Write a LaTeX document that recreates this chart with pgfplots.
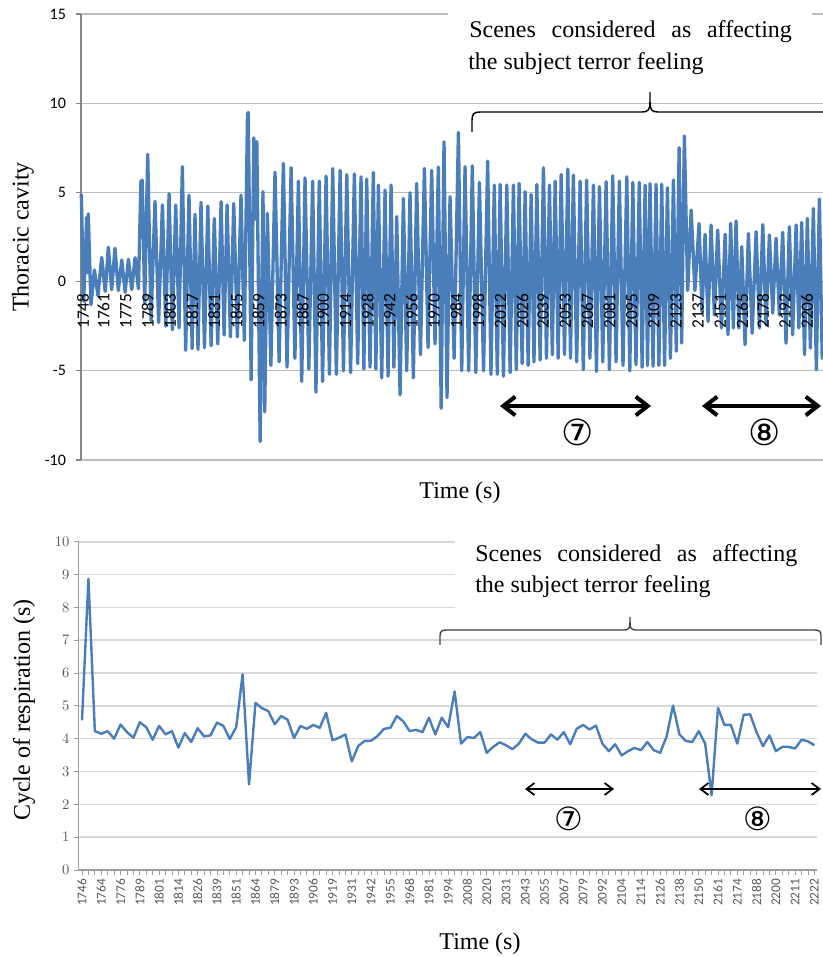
\documentclass[border=0pt]{standalone}
\usepackage{fontspec}
\setmainfont{Liberation Serif}
\newfontfamily\calibri{Carlito}
\newfontfamily\dejavu{DejaVu Sans}
\usepackage{pgfplots}
\pgfplotsset{compat=1.18}
\usetikzlibrary{arrows.meta}
\definecolor{xlblue}{HTML}{4A7EBB}
\definecolor{axgray}{HTML}{868686}
\definecolor{gridA}{HTML}{BDBDBD}
\definecolor{gridB}{HTML}{D9D9D9}
\definecolor{lblgray}{HTML}{595959}

\pgfplotsset{
  topaxis/.style={
    at={(60.75pt,372.75pt)}, anchor=south west,
    scale only axis, width=556.5pt, height=334.5pt,
    xmin=1746.7, xmax=2216, ymin=-10, ymax=15, clip=false,
  },
}

\begin{document}
\begin{tikzpicture}
\useasboundingbox (0,0) rectangle (617.25pt,717.75pt);

% top: thoracic cavity signal
\begin{axis}[
  topaxis,
  axis x line=middle, axis y line=left,
  x axis line style={-, axgray, line width=1.3pt},
  y axis line style={-, axgray, line width=0.8pt},
  ytick={-10,-5,0,5,10,15}, yticklabels={-10,-5,0,5,10,15},
  ymajorgrids, grid style={gridA, line width=0.8pt},
  xtick=\empty,
  ytick style={axgray, line width=0.8pt},
  tick align=outside, major tick length=3.75pt,
  yticklabel style={font=\calibri\fontsize{12}{12}\selectfont, xshift=-4pt},
]
\addplot[xlblue, line width=2.5pt, line join=round] coordinates {
(1746.9,4.9) (1748.4,-1.1) (1750.3,3.6) (1750.8,0.5) (1751.3,3.8) (1753.0,-1.3)
(1755.2,0.65) (1757.4,-0.8) (1759.8,1.36) (1762.0,-0.55) (1764.0,1.92) (1766.1,-0.45)
(1768.2,1.87) (1770.3,-0.5) (1772.5,1.21) (1774.6,-0.6) (1776.7,1.25) (1778.8,-0.45)
(1780.9,1.34) (1783.0,-0.4)
(1784.6,5.6) (1785.4,5.69) (1787.0,-1.2) (1788.9,7.13) (1791.0,-2.2) (1793.5,4.5)
(1795.8,-2.3) (1798.2,4.3) (1800.3,-2.5) (1802.4,4.93) (1804.5,-2.7) (1806.6,4.29)
(1808.7,-2.6) (1810.8,6.44) (1812.9,-3.85) (1815.0,4.85) (1817.0,-3.75) (1818.8,3.77)
(1820.7,-3.8) (1822.6,4.44) (1824.8,-3.7) (1826.9,4.24) (1829.0,-3.6) (1831.0,3.54)
(1833.2,-3.5) (1835.3,4.48) (1837.2,-3.0) (1839.1,4.29) (1841.2,-3.1) (1843.3,4.38)
(1845.6,-3.1) (1847.9,4.85) (1850.0,-3.3)
(1852.0,9.4) (1852.5,9.48) (1854.3,-5.5) (1856.0,8.06) (1857.0,3.5) (1857.9,7.84)
(1860.0,-8.96) (1861.8,5.04) (1862.9,-7.3) (1864.6,3.82) (1866.8,-4.7) (1869.4,6.12)
(1872.0,-4.5) (1874.7,6.62) (1877.0,-4.8) (1879.6,6.38) (1882.0,-4.3) (1884.2,5.63)
(1886.3,-5.6) (1888.4,5.82) (1890.8,-4.9) (1893.2,5.63) (1895.3,-6.2) (1897.4,5.63)
(1899.5,-5.6) (1901.7,5.91) (1903.8,-5.2) (1905.9,6.34) (1908.2,-5.2) (1910.6,6.23)
(1912.7,-5.0) (1914.8,6.0) (1917.2,-5.1) (1919.6,6.04) (1921.7,-4.6) (1923.8,5.88)
(1925.6,-4.9) (1927.4,5.75) (1929.5,-4.8) (1931.6,6.12) (1933.2,-4.9) (1934.8,5.41)
(1936.9,-5.4) (1939.0,5.13) (1940.9,-5.3) (1942.8,5.41) (1944.6,-4.8) (1946.4,3.64)
(1948.5,-6.35) (1950.6,4.66) (1952.7,-5.0) (1954.8,4.98) (1956.9,-5.4) (1959.0,5.5)
(1961.4,-4.1) (1963.9,6.34) (1966.2,-3.7) (1968.5,6.23) (1970.6,-3.5) (1972.7,6.42)
(1974.5,-7.1) (1976.3,7.84) (1978.2,-6.5) (1980.1,4.76) (1982.7,-4.3) (1985.4,8.36)
(1987.5,-5.0) (1989.6,6.44) (1991.9,-5.0) (1994.2,6.49) (1996.4,-5.1) (1998.7,5.56)
(2001.3,-5.0) (2003.9,6.75) (2006.0,-5.2) (2008.1,5.41) (2010.0,-5.2) (2011.8,5.45)
(2013.9,-5.3) (2016.0,5.41) (2018.1,-5.1) (2020.2,5.41) (2022.0,-4.94) (2023.8,5.5)
(2025.7,-4.6) (2027.6,5.04) (2029.5,-4.7) (2031.4,4.89) (2033.2,-4.5) (2035.0,5.45)
(2037.1,-4.4) (2039.2,6.38) (2041.1,-4.3) (2043.0,5.41) (2044.8,-4.1) (2046.6,5.63)
(2048.5,-4.3) (2050.4,6.0) (2052.5,-4.1) (2054.6,6.31) (2056.3,-4.3) (2058.1,5.97)
(2060.2,-4.5) (2062.4,5.63) (2064.4,-4.94) (2066.5,5.69) (2068.6,-4.3) (2070.8,5.41)
(2072.7,-5.04) (2074.6,5.32) (2076.7,-4.5) (2078.8,5.6) (2080.9,-4.94) (2083.0,5.93)
(2085.1,-4.5) (2087.2,5.63) (2089.5,-4.7) (2091.9,5.88) (2093.8,-5.0) (2095.7,5.56)
(2097.7,-4.66) (2099.8,5.56) (2101.6,-4.8) (2103.5,5.41) (2105.0,-4.7) (2106.6,5.5)
(2108.5,-4.75) (2110.4,5.45) (2112.2,-4.7) (2114.0,5.45) (2115.8,-4.7) (2117.6,5.26)
(2119.5,-4.3) (2121.4,5.69) (2123.2,-3.9) (2125.0,7.5) (2126.6,-3.45) (2128.3,8.17)
(2130.4,-0.5) (2132.6,4.01) (2135.0,-0.5) (2137.6,3.26) (2139.5,-1.7) (2141.4,2.65)
(2143.3,-2.24) (2145.2,3.17) (2147.3,-1.87) (2149.4,2.89) (2151.8,-2.6) (2154.1,2.65)
(2155.9,-2.98) (2157.6,3.26) (2159.3,-2.6) (2161.0,3.4) (2162.8,-2.6) (2164.6,1.96)
(2166.7,-3.54) (2168.8,2.7) (2171.2,-2.9) (2173.7,2.8) (2175.8,-2.6) (2177.9,3.2)
(2180.0,-2.43) (2182.1,2.61) (2184.2,-1.77) (2186.3,2.43) (2188.4,-1.87) (2190.5,2.76)
(2192.6,-3.45) (2194.7,3.08) (2196.8,-2.98) (2199.0,3.17) (2200.7,-2.6) (2202.5,3.32)
(2204.3,-4.1) (2206.1,3.54) (2208.0,-3.73) (2209.9,4.1) (2211.8,-4.94) (2213.7,4.63)
(2215.5,-4.3) (2216.0,-2.0)
};
\end{axis}

% top: time labels drawn again above the signal
\begin{axis}[
  topaxis,
  axis x line=middle, axis y line=none,
  x axis line style={draw=none},
  ytick=\empty,
  xtick={1748,1761,1775,1789,1803,1817,1831,1845,1859,1873,1887,1900,1914,1928,1942,1956,1970,1984,1998,2012,2026,2039,2053,2067,2081,2095,2109,2123,2137,2151,2165,2178,2192,2206},
  xticklabels={1748,1761,1775,1789,1803,1817,1831,1845,1859,1873,1887,1900,1914,1928,1942,1956,1970,1984,1998,2012,2026,2039,2053,2067,2081,2095,2109,2123,2137,2151,2165,2178,2192,2206},
  xtick style={draw=none},
  tick align=outside, major tick length=3.75pt,
  xticklabel style={yshift=-5pt, rotate=90, anchor=east, font=\calibri\fontsize{13}{13}\selectfont, inner sep=0pt},
]
\end{axis}

% bottom: cycle of respiration
\begin{axis}[
  at={(59.1pt,65.25pt)}, anchor=south west,
  scale only axis, width=553.6pt, height=246.2pt,
  xmin=-0.5, xmax=114.4, ymin=0, ymax=10,
  axis lines=left, axis line style={-, axgray!80, line width=0.8pt},
  ytick={0,1,...,10},
  ymajorgrids, grid style={gridB, line width=1.2pt},
  xtick={0,3,...,114}, minor xtick={0,1,...,114},
  xticklabels={1746,1764,1776,1789,1801,1814,1826,1839,1851,1864,1879,1893,1906,1919,1931,1942,1955,1968,1981,1994,2008,2020,2031,2043,2055,2067,2079,2092,2104,2114,2126,2138,2150,2161,2174,2188,2200,2211,2222},
  tick align=outside, major tick length=3.5pt, minor tick length=3.5pt,
  tick style={axgray!80, line width=0.6pt},
  xticklabel style={yshift=-3pt, rotate=90, anchor=east, font=\calibri\fontsize{10}{10}\selectfont, text=lblgray, inner sep=0pt},
  yticklabel style={font=\calibri\fontsize{10.5}{10.5}\selectfont, text=lblgray},
  clip=false,
]
\addplot[xlblue, line width=1.8pt, line join=round] coordinates {
(0,4.56) (1,8.87) (2,4.23) (3,4.15) (4,4.23) (5,4.0) (6,4.43) (7,4.2) (8,4.03) (9,4.5)
(10,4.35) (11,3.97) (12,4.39) (13,4.13) (14,4.23) (15,3.73) (16,4.17) (17,3.9) (18,4.32) (19,4.07)
(20,4.1) (21,4.49) (22,4.39) (23,3.99) (24,4.35) (25,5.96) (26,2.61) (27,5.09) (28,4.93) (29,4.84)
(30,4.44) (31,4.69) (32,4.58) (33,4.02) (34,4.39) (35,4.3) (36,4.42) (37,4.33) (38,4.79) (39,3.95)
(40,4.03) (41,4.13) (42,3.31) (43,3.78) (44,3.93) (45,3.94) (46,4.08) (47,4.3) (48,4.33) (49,4.69)
(50,4.53) (51,4.23) (52,4.27) (53,4.2) (54,4.64) (55,4.13) (56,4.64) (57,4.35) (58,5.44) (59,3.85)
(60,4.05) (61,4.02) (62,4.2) (63,3.57) (64,3.75) (65,3.89) (66,3.8) (67,3.68) (68,3.85) (69,4.15)
(70,3.98) (71,3.88) (72,3.88) (73,4.13) (74,3.97) (75,4.2) (76,3.83) (77,4.3) (78,4.42) (79,4.28)
(80,4.4) (81,3.85) (82,3.62) (83,3.83) (84,3.49) (85,3.62) (86,3.72) (87,3.65) (88,3.9) (89,3.65)
(90,3.57) (91,4.07) (92,5.01) (93,4.13) (94,3.93) (95,3.9) (96,4.23) (97,3.85) (98,2.28) (99,4.94)
(100,4.42) (101,4.42) (102,3.85) (103,4.73) (104,4.74) (105,4.2) (106,3.77) (107,4.1) (108,3.62) (109,3.75)
(110,3.75) (111,3.7) (112,3.97) (113,3.92) (114,3.8)
};
\end{axis}

% annotations, in pixel units of the reference (y downwards)
\begin{scope}[x=0.75pt, y=-0.75pt, yshift=717.75pt]
  \fill[white] (448,0) rectangle (812,88);
  \fill[white] (455,527) rectangle (818,613);
  \node[anchor=base west, inner sep=0pt, font=\fontsize{18}{24}\selectfont] at (469,38)
    {\makebox[242pt][s]{Scenes considered as affecting}};
  \node[anchor=base west, inner sep=0pt, font=\fontsize{18}{24}\selectfont] at (468,70)
    {the subject terror feeling};
  \node[anchor=base west, inner sep=0pt, font=\fontsize{18}{24}\selectfont] at (475,562)
    {\makebox[241.5pt][s]{Scenes considered as affecting}};
  \node[anchor=base west, inner sep=0pt, font=\fontsize{18}{24}\selectfont] at (475,593)
    {the subject terror feeling};
  % braces
  \draw[black, line width=1.1pt] (472,132) -- (472,120) .. controls (472,114) and (474,112) .. (480,112)
    -- (642,112) .. controls (648,112) and (650,110) .. (650,102) -- (650,92);
  \draw[black, line width=1.1pt] (650,102) .. controls (650,110) and (652,112) .. (658,112) -- (830,112);
  \draw[black!75, line width=1pt] (440,645) -- (440,636) .. controls (440,631) and (442,630) .. (447,630)
    -- (624,630) .. controls (629,630) and (630,628) .. (630,622) -- (630,617);
  \draw[black!75, line width=1pt] (630,622) .. controls (630,628) and (631,630) .. (636,630)
    -- (814,630) .. controls (819,630) and (821,631) .. (821,636) -- (821,645);
  % arrows
  \draw[line width=3pt, {Straight Barb[length=9pt,width=14pt]}-{Straight Barb[length=9pt,width=14pt]}] (500,406) -- (651,406);
  \draw[line width=3pt, {Straight Barb[length=9pt,width=14pt]}-{Straight Barb[length=9pt,width=14pt]}] (702,406) -- (821,406);
  \draw[line width=1.3pt, {Straight Barb[length=6pt,width=9pt]}-{Straight Barb[length=6pt,width=9pt]}] (525,789) -- (614,789);
  \draw[line width=1.3pt, {Straight Barb[length=6pt,width=9pt]}-{Straight Barb[length=6pt,width=9pt]}] (699,789) -- (821,789);
  \node[font=\dejavu\fontsize{27}{27}\selectfont] at (578,432) {⑦};
  \node[font=\dejavu\fontsize{27}{27}\selectfont] at (765,432) {⑧};
  \node[font=\dejavu\fontsize{24}{24}\selectfont] at (569,819) {⑦};
  \node[font=\dejavu\fontsize{24}{24}\selectfont] at (758,819) {⑧};
  % axis titles
  \node[rotate=90, font=\fontsize{18}{18}\selectfont] at (23,237) {Thoracic cavity};
  \node[rotate=90, font=\fontsize{18}{18}\selectfont] at (24,710) {Cycle of respiration (s)};
  \node[font=\fontsize{18}{18}\selectfont] at (460,493) {Time (s)};
  \node[font=\fontsize{18}{18}\selectfont] at (480,944) {Time (s)};
\end{scope}
\end{tikzpicture}
\end{document}
